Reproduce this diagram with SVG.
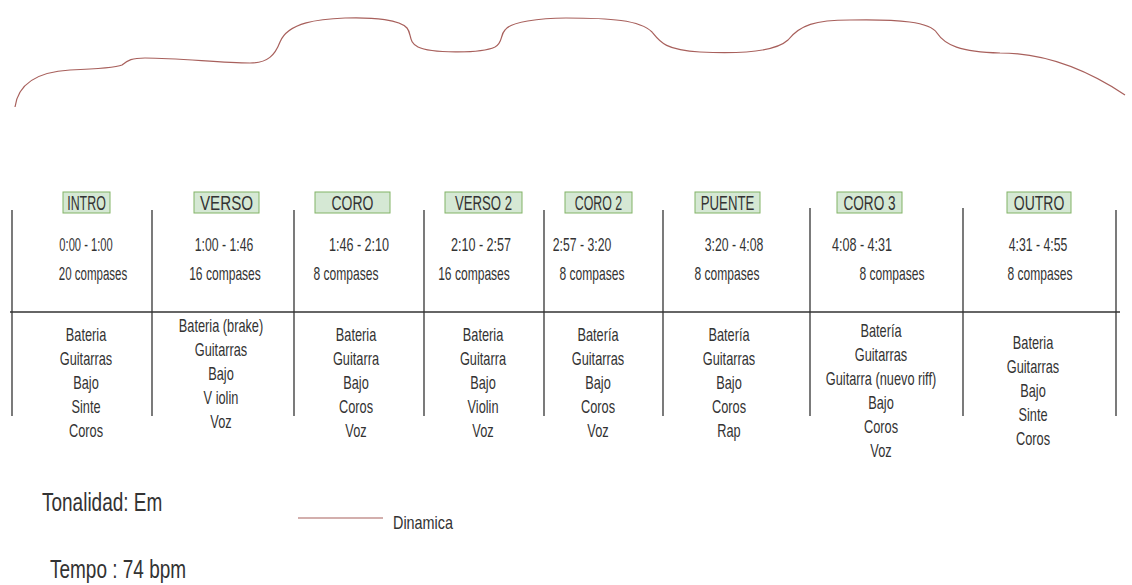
<svg xmlns="http://www.w3.org/2000/svg" width="1132" height="585" viewBox="0 0 1132 585">
<style>
text{font-family:"Liberation Sans",Arial,sans-serif;fill:#333;text-anchor:middle}
.lbl{font-size:20px}
.tm{font-size:18px}
.cp{font-size:18px}
.ins{font-size:18px}
.big{font-size:25px;text-anchor:start}
.leg{font-size:18px;text-anchor:start}
.box{fill:#d5e8d4;stroke:#82b366;stroke-width:1}
.vl{stroke:#333;stroke-width:1.3;fill:none}
.dyn{stroke:#a8605c;stroke-width:1.2;fill:none}
</style>
<rect width="1132" height="585" fill="#fff"/>
<g id="dinamica-curve">
<path class="dyn" d="M15,107 C18,85 35,72 70,70 C95,69 115,68 122,65 C128,60 132,58 145,58 C180,58 220,63 250,63 C268,63 275,55 280,42 C288,22 320,19 345,18 C375,17 400,20 407,28 C412,34 408,42 418,47 C430,53 480,54 495,47 C503,43 500,35 505,30 C510,22 540,18 566,18 C610,18 640,20 652,32 C660,42 665,50 700,52 C740,54 775,52 788,40 C800,25 815,20 850,20 C900,19 930,22 937,33 C945,45 960,52 1000,53 C1040,53 1080,65 1125,95"/>
</g>
<g id="grid">
<line class="vl" x1="12" y1="210" x2="12" y2="416"/>
<line class="vl" x1="152" y1="210" x2="152" y2="416"/>
<line class="vl" x1="294" y1="210" x2="294" y2="416"/>
<line class="vl" x1="424" y1="210" x2="424" y2="416"/>
<line class="vl" x1="544" y1="210" x2="544" y2="416"/>
<line class="vl" x1="663" y1="210" x2="663" y2="416"/>
<line class="vl" x1="810" y1="208" x2="810" y2="416"/>
<line class="vl" x1="963" y1="208" x2="963" y2="416"/>
<line class="vl" x1="1116" y1="210" x2="1116" y2="416"/>
<line class="vl" x1="10" y1="312" x2="1120" y2="312"/>
</g>
<g id="intro">
<rect class="box" x="63" y="192" width="47" height="21"/>
<text class="lbl" transform="translate(86.5 210) scale(0.62 1)">INTRO</text>
<text class="tm" transform="translate(86 251) scale(0.62 1)">0:00 - 1:00</text>
<text class="cp" transform="translate(93 280) scale(0.64 1)">20 compases</text>
<g transform="translate(86 0) scale(0.71 1)">
<text class="ins" y="341">Bateria</text><text class="ins" y="365">Guitarras</text><text class="ins" y="389">Bajo</text><text class="ins" y="413">Sinte</text><text class="ins" y="437">Coros</text>
</g>
</g>
<g id="verso">
<rect class="box" x="194" y="192" width="65" height="21"/>
<text class="lbl" transform="translate(226.5 210) scale(0.76 1)">VERSO</text>
<text class="tm" transform="translate(224 251) scale(0.68 1)">1:00  - 1:46</text>
<text class="cp" transform="translate(225 280) scale(0.67 1)">16 compases</text>
<g transform="translate(221 0) scale(0.71 1)">
<text class="ins" y="332">Bateria (brake)</text><text class="ins" y="356">Guitarras</text><text class="ins" y="380">Bajo</text><text class="ins" y="404">V iolin</text><text class="ins" y="428">Voz</text>
</g>
</g>
<g id="coro">
<rect class="box" x="315" y="192" width="75" height="21"/>
<text class="lbl" transform="translate(352.5 210) scale(0.7 1)">CORO</text>
<text class="tm" transform="translate(359 251) scale(0.7 1)">1:46 - 2:10</text>
<text class="cp" transform="translate(346 280) scale(0.67 1)">8 compases</text>
<g transform="translate(356 0) scale(0.71 1)">
<text class="ins" y="341">Bateria</text><text class="ins" y="365">Guitarra</text><text class="ins" y="389">Bajo</text><text class="ins" y="413">Coros</text><text class="ins" y="437">Voz</text>
</g>
</g>
<g id="verso2">
<rect class="box" x="445" y="192" width="77" height="21"/>
<text class="lbl" transform="translate(483.5 210) scale(0.66 1)">VERSO 2</text>
<text class="tm" transform="translate(481 251) scale(0.7 1)">2:10 - 2:57</text>
<text class="cp" transform="translate(474 280) scale(0.67 1)">16 compases</text>
<g transform="translate(483 0) scale(0.71 1)">
<text class="ins" y="341">Bateria</text><text class="ins" y="365">Guitarra</text><text class="ins" y="389">Bajo</text><text class="ins" y="413">Violin</text><text class="ins" y="437">Voz</text>
</g>
</g>
<g id="coro2">
<rect class="box" x="565" y="192" width="67" height="21"/>
<text class="lbl" transform="translate(598.5 210) scale(0.62 1)">CORO 2</text>
<text class="tm" transform="translate(582 251) scale(0.68 1)">2:57 - 3:20</text>
<text class="cp" transform="translate(592 280) scale(0.67 1)">8 compases</text>
<g transform="translate(598 0) scale(0.71 1)">
<text class="ins" y="341">Batería</text><text class="ins" y="365">Guitarras</text><text class="ins" y="389">Bajo</text><text class="ins" y="413">Coros</text><text class="ins" y="437">Voz</text>
</g>
</g>
<g id="puente">
<rect class="box" x="695" y="192" width="65" height="21"/>
<text class="lbl" transform="translate(727.5 210) scale(0.66 1)">PUENTE</text>
<text class="tm" transform="translate(734 251) scale(0.68 1)">3:20 - 4:08</text>
<text class="cp" transform="translate(727 280) scale(0.67 1)">8 compases</text>
<g transform="translate(729 0) scale(0.71 1)">
<text class="ins" y="341">Batería</text><text class="ins" y="365">Guitarras</text><text class="ins" y="389">Bajo</text><text class="ins" y="413">Coros</text><text class="ins" y="437">Rap</text>
</g>
</g>
<g id="coro3">
<rect class="box" x="837" y="192" width="65" height="21"/>
<text class="lbl" transform="translate(869.5 210) scale(0.68 1)">CORO 3</text>
<text class="tm" transform="translate(862 251) scale(0.7 1)">4:08 - 4:31</text>
<text class="cp" transform="translate(892 280) scale(0.67 1)">8 compases</text>
<g transform="translate(881 0) scale(0.71 1)">
<text class="ins" y="337">Batería</text><text class="ins" y="361">Guitarras</text><text class="ins" y="385">Guitarra (nuevo riff)</text><text class="ins" y="409">Bajo</text><text class="ins" y="433">Coros</text><text class="ins" y="457">Voz</text>
</g>
</g>
<g id="outro">
<rect class="box" x="1007" y="192" width="64" height="21"/>
<text class="lbl" transform="translate(1039 210) scale(0.7 1)">OUTRO</text>
<text class="tm" transform="translate(1038 251) scale(0.68 1)">4:31 - 4:55</text>
<text class="cp" transform="translate(1040 280) scale(0.67 1)">8 compases</text>
<g transform="translate(1033 0) scale(0.71 1)">
<text class="ins" y="349">Bateria</text><text class="ins" y="373">Guitarras</text><text class="ins" y="397">Bajo</text><text class="ins" y="421">Sinte</text><text class="ins" y="445">Coros</text>
</g>
</g>
<g id="legend">
<text class="big" transform="translate(42 511) scale(0.76 1)">Tonalidad: Em</text>
<text class="big" transform="translate(50 578) scale(0.76 1)">Tempo : 74 bpm</text>
<line class="dyn" x1="298" y1="518" x2="383" y2="518"/>
<text class="leg" transform="translate(393 529) scale(0.8 1)">Dinamica</text>
</g>
</svg>
